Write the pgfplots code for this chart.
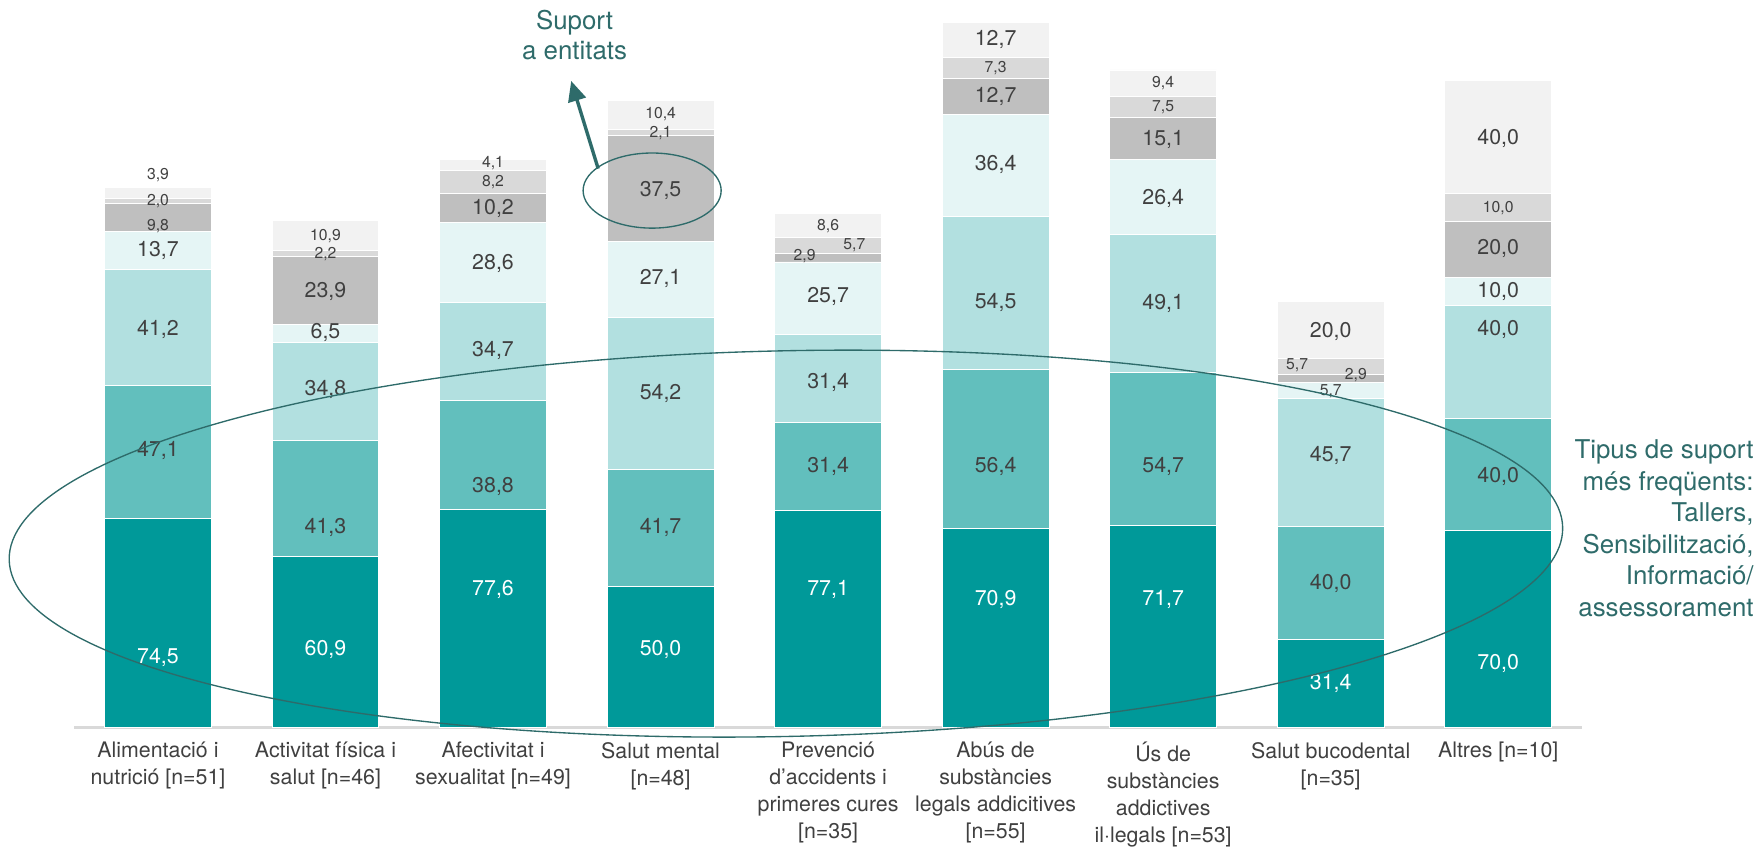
\documentclass[border=0pt]{standalone}
\usepackage{fontspec}
\setmainfont{TeX Gyre Heros}
\usepackage{pgfplots}
\pgfplotsset{compat=1.18}
\usetikzlibrary{arrows.meta}

\definecolor{cA}{HTML}{009999}
\definecolor{cB}{HTML}{62BFBD}
\definecolor{cC}{HTML}{B2E0E0}
\definecolor{cD}{HTML}{E5F5F5}
\definecolor{cE}{HTML}{BFBFBF}
\definecolor{cF}{HTML}{D9D9D9}
\definecolor{cG}{HTML}{F2F2F2}
\definecolor{labgray}{HTML}{404040}
\definecolor{annot}{HTML}{2E6B6A}

% value labels: normal, small, white
\newcommand\lb[3]{\node[font=\fontsize{9.5}{11}\selectfont, text=labgray] at (axis cs:#1,#2) {#3};}
\newcommand\ls[3]{\node[font=\fontsize{7}{8}\selectfont, text=labgray] at (axis cs:#1,#2) {#3};}
\newcommand\lw[3]{\node[font=\fontsize{9.5}{11}\selectfont, text=white] at (axis cs:#1,#2) {#3};}

\pgfplotsset{frame/.style={scale only axis, width=670.5pt, height=323.5pt,
    xmin=-0.5, xmax=8.5, ymin=0, ymax=258.8, clip=false}}

\begin{document}
\begin{tikzpicture}
\useasboundingbox (-33pt,-53pt) rectangle (751pt,323.5pt);
\begin{axis}[
    frame,
    ybar stacked, bar width=47.5pt,
    axis x line=bottom, axis y line=none,
    x axis line style={-, draw=cF, line width=1.2pt},
    xtick={0,...,8}, major tick length=0pt, ytick=\empty,
    xticklabels={{Alimentació i\\nutrició [n=51]},
                 {Activitat física i\\salut [n=46]},
                 {Afectivitat i\\sexualitat [n=49]},
                 {Salut mental\\{[n=48]}},
                 {Prevenció\\d'accidents i\\primeres cures\\{[n=35]}},
                 {Abús de\\substàncies\\legals addicitives\\{[n=55]}},
                 {Ús de\\substàncies\\addictives\\il·legals [n=53]},
                 {Salut bucodental\\{[n=35]}},
                 {Altres [n=10]}},
    xticklabel style={align=center, text=labgray,
        font=\fontsize{9.5}{12}\selectfont, yshift=-3pt},
]
\addplot[fill=cA, draw=white, line width=0.4pt] coordinates {(0,74.5) (1,60.9) (2,77.6) (3,50.0) (4,77.1) (5,70.9) (6,71.7) (7,31.4) (8,70.0)};
\addplot[fill=cB, draw=white, line width=0.4pt] coordinates {(0,47.1) (1,41.3) (2,38.8) (3,41.7) (4,31.4) (5,56.4) (6,54.7) (7,40.0) (8,40.0)};
\addplot[fill=cC, draw=white, line width=0.4pt] coordinates {(0,41.2) (1,34.8) (2,34.7) (3,54.2) (4,31.4) (5,54.5) (6,49.1) (7,45.7) (8,40.0)};
\addplot[fill=cD, draw=white, line width=0.4pt] coordinates {(0,13.7) (1,6.5) (2,28.6) (3,27.1) (4,25.7) (5,36.4) (6,26.4) (7,5.7) (8,10.0)};
\addplot[fill=cE, draw=white, line width=0.4pt] coordinates {(0,9.8) (1,23.9) (2,10.2) (3,37.5) (4,2.9) (5,12.7) (6,15.1) (7,2.9) (8,20.0)};
\addplot[fill=cF, draw=white, line width=0.4pt] coordinates {(0,2.0) (1,2.2) (2,8.2) (3,2.1) (4,5.7) (5,7.3) (6,7.5) (7,5.7) (8,10.0)};
\addplot[fill=cG, draw=white, line width=0.4pt] coordinates {(0,3.9) (1,10.9) (2,4.1) (3,10.4) (4,8.6) (5,12.7) (6,9.4) (7,20.0) (8,40.0)};
\end{axis}

% second, empty axis on the same frame: value labels on top of the bars
\begin{axis}[frame, hide axis]
% bar 0
\lw{0}{24.8}{74,5} \lb{0}{98.4}{47,1} \lb{0}{141.7}{41,2} \lb{0}{169.8}{13,7}
\ls{0}{178.4}{9,8} \ls{0}{187.4}{2,0} \ls{0}{196.4}{3,9}
% bar 1
\lw{1}{27.6}{60,9} \lb{1}{71.2}{41,3} \lb{1}{120.4}{34,8} \lb{1}{140.4}{6,5}
\lb{1}{155.2}{23,9} \ls{1}{168.4}{2,2} \ls{1}{174.9}{10,9}
% bar 2
\lw{2}{49.2}{77,6} \lb{2}{85.6}{38,8} \lb{2}{134}{34,7} \lb{2}{165.1}{28,6}
\lb{2}{184.6}{10,2} \ls{2}{194.1}{8,2} \ls{2}{200.7}{4,1}
% bar 3
\lw{3}{27.6}{50,0} \lb{3}{71.2}{41,7} \lb{3}{118.8}{54,2} \lb{3}{159.6}{27,1}
\lb{3}{191.2}{37,5} \ls{3}{211.6}{2,1} \ls{3}{218.1}{10,4}
% bar 4
\lw{4}{49.2}{77,1} \lb{4}{92.8}{31,4} \lb{4}{122.8}{31,4} \lb{4}{153.2}{25,7}
\ls{3.86}{167.6}{2,9} \ls{4.157}{171.6}{5,7} \ls{4}{178.4}{8,6}
% bar 5
\lw{5}{45.6}{70,9} \lb{5}{92.8}{56,4} \lb{5}{151.2}{54,5} \lb{5}{200.1}{36,4}
\lb{5}{224.6}{12,7} \ls{5}{234.7}{7,3} \lb{5}{244.8}{12,7}
% bar 6
\lw{6}{45.6}{71,7} \lb{6}{92.8}{54,7} \lb{6}{150.9}{49,1} \lb{6}{188.2}{26,4}
\lb{6}{209.3}{15,1} \ls{6}{220.8}{7,5} \ls{6}{229.2}{9,4}
% bar 7
\lw{7}{15.6}{31,4} \lb{7}{51.2}{40,0} \lb{7}{96.8}{45,7} \ls{7}{119.6}{5,7}
\ls{6.8}{128.8}{5,7} \ls{7.15}{125.2}{2,9} \lb{7}{140.8}{20,0}
% bar 8
\lw{8}{22.8}{70,0} \lb{8}{89.2}{40,0} \lb{8}{141.6}{40,0} \lb{8}{155.2}{10,0}
\lb{8}{170.4}{20,0} \ls{8}{184.8}{10,0} \lb{8}{209.6}{40,0}
\end{axis}

% annotations
\draw[annot, line width=0.6pt, rotate around={1.2:(316.5pt,81.75pt)}]
    (316.5pt,81.75pt) ellipse [x radius=345.5pt, y radius=85.75pt];
\draw[annot, line width=0.6pt] (257pt,238.75pt) ellipse [x radius=30.7pt, y radius=16.7pt];
\draw[annot, line width=1.5pt, -{Triangle[length=9pt,width=8pt]}] (233pt,248.5pt) -- (221pt,287.5pt);
\node[annot, align=center, font=\fontsize{11.5}{13.5}\selectfont] at (222.5pt,308pt) {Suport\\a entitats};
\node[annot, anchor=east, align=right, font=\fontsize{11.5}{14}\selectfont, inner sep=0pt] at (747pt,88.5pt)
    {Tipus de suport\\més freqüents:\\Tallers,\\Sensibilització,\\Informació/\\assessorament};
\end{tikzpicture}
\end{document}
